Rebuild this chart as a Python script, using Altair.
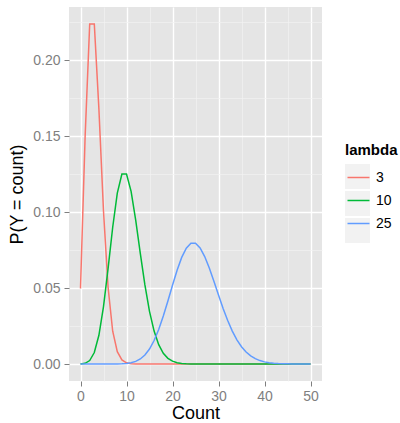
import altair as alt
import pandas as pd

counts = list(range(51))
lambdas = ["3", "10", "25"]
colors = ["#F8766D", "#00BA38", "#619CFF"]

p_lambda3 = [0.04979, 0.14936, 0.22404, 0.22404, 0.16803, 0.10082, 0.05041, 0.02160,
             0.00810, 0.00270, 0.00081, 0.00022, 0.000055, 0.000013, 0.000003, 0.000001] + [0.0] * 35
p_lambda10 = [0.0000454, 0.000454, 0.00227, 0.007567, 0.018917, 0.037833, 0.063055, 0.090079,
              0.112599, 0.125110, 0.125110, 0.113736, 0.094780, 0.072908, 0.052077, 0.034718,
              0.021699, 0.012764, 0.007091, 0.003732, 0.001866, 0.000889, 0.000404, 0.000176,
              0.0000732, 0.0000293, 0.0000113, 0.0000042, 0.0000015, 0.0000005] + [0.0] * 21
p_lambda25 = [0.0, 0.0, 0.0, 0.0, 0.0000002, 0.0000011, 0.0000047, 0.0000168, 0.0000526, 0.000146,
              0.000365, 0.000829, 0.001728, 0.003323, 0.005935, 0.009891, 0.015455, 0.022728,
              0.031566, 0.041534, 0.051918, 0.061807, 0.070235, 0.076342, 0.079523, 0.079523,
              0.076464, 0.070800, 0.063214, 0.054495, 0.045413, 0.036623, 0.028612, 0.021676,
              0.015938, 0.011384, 0.007906, 0.005342, 0.003514, 0.002253, 0.001408, 0.000859,
              0.000511, 0.000297, 0.000169, 0.0000939, 0.0000510, 0.0000271, 0.0000141,
              0.0000072, 0.0000036]

x_ticks = [0, 5, 10, 15, 20, 25, 30, 35, 40, 45, 50]
y_ticks = [0.0, 0.025, 0.05, 0.075, 0.1, 0.125, 0.15, 0.175, 0.2, 0.225]

rows = []
for lam, vals in zip(lambdas, [p_lambda3, p_lambda10, p_lambda25]):
    for c, v in zip(counts, vals):
        rows.append({"count": c, "prob": v, "lambda": lam, "lam_bg": lam})
df = pd.DataFrame(rows)

FONT = "Liberation Sans"
GREY = "#7F7F7F"

x_major = "datum.value % 10 === 0"
y_major = "round(datum.value * 1000) % 50 === 0"

x_axis = alt.Axis(
    values=x_ticks,
    labelExpr=f"{x_major} ? datum.label : ''",
    format="d",
    domain=False,
    gridColor={"condition": {"test": x_major, "value": "#FFFFFF"}, "value": "#F2F2F2"},
    gridWidth={"condition": {"test": x_major, "value": 1.4}, "value": 0.7},
    tickOpacity={"condition": {"test": x_major, "value": 1}, "value": 0},
    tickColor=GREY, tickSize=5, tickWidth=1,
    labelColor=GREY, labelFont=FONT, labelFontSize=14, labelPadding=3,
    title="Count", titleFont=FONT, titleFontSize=18, titleFontWeight="normal",
    titleColor="black", titlePadding=1,
)
y_axis = alt.Axis(
    values=y_ticks,
    labelExpr=f"{y_major} ? format(datum.value, '.2f') : ''",
    domain=False,
    gridColor={"condition": {"test": y_major, "value": "#FFFFFF"}, "value": "#F2F2F2"},
    gridWidth={"condition": {"test": y_major, "value": 1.4}, "value": 0.7},
    tickOpacity={"condition": {"test": y_major, "value": 1}, "value": 0},
    tickColor=GREY, tickSize=5, tickWidth=1,
    labelColor=GREY, labelFont=FONT, labelFontSize=14, labelPadding=4,
    title="P(Y = count)", titleFont=FONT, titleFontSize=18, titleFontWeight="normal",
    titleColor="black", titlePadding=6,
)

x_enc = alt.X("count:Q", axis=x_axis, scale=alt.Scale(domain=[-2.5, 52.5], nice=False, zero=False))
y_enc = alt.Y("prob:Q", axis=y_axis, scale=alt.Scale(domain=[-0.0112, 0.2352], nice=False, zero=False))

legend_common = dict(
    title="lambda", orient="none", legendX=276, legendY=136, padding=0,
    titleFont=FONT, titleFontSize=15, titleFontWeight="bold", titleColor="black",
    titlePadding=6, labelFont=FONT, labelFontSize=14, labelColor="black",
    labelOffset=4, rowPadding=2, symbolSize=625,
)

bg = alt.Chart(df).transform_filter("false").mark_square().encode(
    x=x_enc, y=y_enc,
    fill=alt.Fill("lam_bg:N", sort=lambdas,
                  scale=alt.Scale(domain=lambdas, range=["#F2F2F2"] * 3),
                  legend=alt.Legend(symbolType="square", symbolStrokeWidth=0,
                                    symbolOpacity=1, labelExpr="''", titleOpacity=0,
                                    zindex=0, **legend_common)),
)

lines = alt.Chart(df).mark_line(strokeWidth=1.5).encode(
    x=x_enc, y=y_enc,
    color=alt.Color("lambda:N", sort=lambdas,
                    scale=alt.Scale(range=colors),
                    legend=alt.Legend(symbolType="M-0.88,0H0.88", symbolStrokeWidth=1.5,
                                      zindex=1, **legend_common)),
    detail="lambda:N",
)

chart = alt.layer(bg, lines).properties(
    width=253, height=374,
    padding={"left": 69, "top": 7, "right": 78, "bottom": 42},
    autosize=alt.AutoSizeParams(type="none"),
    background="white",
).configure_view(fill="#E5E5E5", stroke=None)

chart.save("out.html", embed_options={"renderer": "svg", "actions": False})
